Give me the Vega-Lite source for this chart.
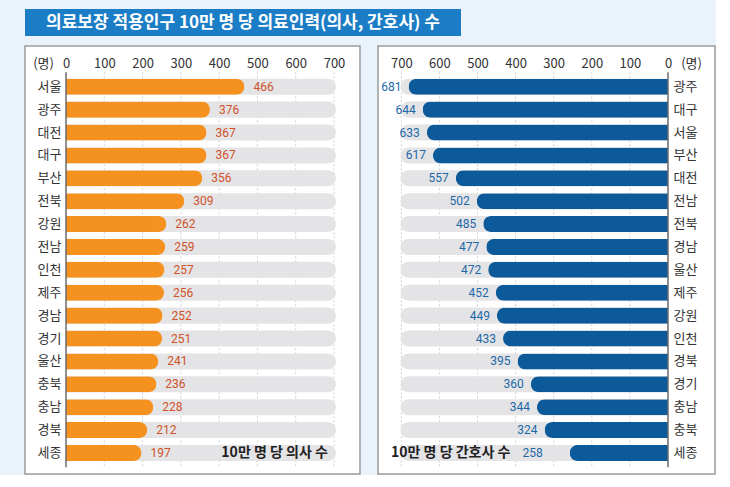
{
  "$schema": "https://vega.github.io/schema/vega-lite/v6.json",
  "background": "#eaf3fb",
  "padding": {"left": 24, "top": 9, "right": 0, "bottom": 0},
  "config": {
    "font": "Noto Sans CJK KR",
    "view": {"fill": "white", "stroke": "#9a9a9a", "strokeWidth": 1.5}
  },
  "datasets": {
    "doctors": [
      {"region": "서울", "value": 466},
      {"region": "광주", "value": 376},
      {"region": "대전", "value": 367},
      {"region": "대구", "value": 367},
      {"region": "부산", "value": 356},
      {"region": "전북", "value": 309},
      {"region": "강원", "value": 262},
      {"region": "전남", "value": 259},
      {"region": "인천", "value": 257},
      {"region": "제주", "value": 256},
      {"region": "경남", "value": 252},
      {"region": "경기", "value": 251},
      {"region": "울산", "value": 241},
      {"region": "충북", "value": 236},
      {"region": "충남", "value": 228},
      {"region": "경북", "value": 212},
      {"region": "세종", "value": 197}
    ],
    "nurses": [
      {"region": "광주", "value": 681},
      {"region": "대구", "value": 644},
      {"region": "서울", "value": 633},
      {"region": "부산", "value": 617},
      {"region": "대전", "value": 557},
      {"region": "전남", "value": 502},
      {"region": "전북", "value": 485},
      {"region": "경남", "value": 477},
      {"region": "울산", "value": 472},
      {"region": "제주", "value": 452},
      {"region": "강원", "value": 449},
      {"region": "인천", "value": 433},
      {"region": "경북", "value": 395},
      {"region": "경기", "value": 360},
      {"region": "충남", "value": 344},
      {"region": "충북", "value": 324},
      {"region": "세종", "value": 258}
    ],
    "ticks": [{"t": 100}, {"t": 200}, {"t": 300}, {"t": 400}, {"t": 500}, {"t": 600}, {"t": 700}]
  },
  "spacing": 9,
  "vconcat": [
    {
      "width": 436,
      "height": 27,
      "view": {"fill": "#1b7dc5", "stroke": null},
      "data": {"values": [{"title": "의료보장 적용인구 10만 명 당 의료인력(의사, 간호사) 수"}]},
      "mark": {"type": "text", "color": "white", "fontSize": 17, "fontWeight": "bold"},
      "encoding": {"text": {"field": "title", "type": "nominal"}}
    },
    {
      "spacing": 16,
      "hconcat": [
        {
          "width": 335,
          "height": 428,
          "data": {"name": "doctors"},
          "encoding": {
            "y": {
              "field": "region",
              "type": "nominal",
              "scale": {
                "domain": ["서울", "광주", "대전", "대구", "부산", "전북", "강원", "전남", "인천", "제주", "경남", "경기", "울산", "충북", "충남", "경북", "세종"],
                "paddingInner": 0.3,
                "paddingOuter": 1.045,
                "align": 0.715
              },
              "axis": {"orient": "left", "offset": -41, "title": null, "ticks": false, "domain": false, "labelPadding": 5, "labelFontSize": 13, "labelColor": "#333"}
            }
          },
          "layer": [
            {
              "data": {"name": "ticks"},
              "mark": {"type": "rule", "color": "#d0d0d0", "strokeDash": [2, 2], "strokeWidth": 1},
              "encoding": {
                "x": {
                  "field": "t",
                  "type": "quantitative",
                  "scale": {"domain": [-107.1, 767.9], "nice": false, "zero": false},
                  "axis": {"orient": "top", "values": [0, 100, 200, 300, 400, 500, 600, 700], "offset": -28, "grid": false, "domain": false, "ticks": false, "labelPadding": 4, "labelFontSize": 13, "labelColor": "#333", "title": "(명)", "titleX": 18, "titleY": -4, "titleBaseline": "bottom", "titleAlign": "center", "titleAnchor": null, "titleFontWeight": "normal", "titleFontSize": 13, "titleColor": "#333"}
                },
                "y": {"datum": "서울", "bandPosition": -0.4},
                "y2": {"datum": "세종", "bandPosition": 1.4}
              }
            },
            {
              "mark": {"type": "bar", "color": "#e4e4e6", "cornerRadiusTopRight": 8, "cornerRadiusBottomRight": 8},
              "encoding": {"x": {"datum": 705}, "x2": {"datum": 0}}
            },
            {
              "mark": {"type": "bar", "color": "#f5921f", "cornerRadiusTopRight": 8, "cornerRadiusBottomRight": 8},
              "encoding": {"x": {"field": "value", "type": "quantitative"}}
            },
            {
              "mark": {"type": "text", "align": "left", "dx": 9, "color": "#cf5228", "fontSize": 12, "font": "Liberation Sans Narrow, Roboto, sans-serif"},
              "encoding": {"x": {"field": "value", "type": "quantitative"}, "text": {"field": "value", "type": "quantitative"}}
            },
            {
              "data": {"values": [{"z": 0}]},
              "mark": {"type": "rule", "color": "#6b6b6b", "strokeWidth": 1.5},
              "encoding": {"x": {"datum": 0}, "y": {"datum": "서울", "bandPosition": -0.4}, "y2": {"datum": "세종", "bandPosition": 1.4}}
            },
            {
              "data": {"values": [{"note": "10만 명 당 의사 수"}]},
              "mark": {"type": "text", "align": "right", "fontWeight": "bold", "fontSize": 14, "color": "#222"},
              "encoding": {"x": {"datum": 684}, "y": {"datum": "세종"}, "text": {"field": "note", "type": "nominal"}}
            }
          ]
        },
        {
          "width": 337,
          "height": 428,
          "data": {"name": "nurses"},
          "encoding": {
            "y": {
              "field": "region",
              "type": "nominal",
              "scale": {
                "domain": ["광주", "대구", "서울", "부산", "대전", "전남", "전북", "경남", "울산", "제주", "강원", "인천", "경북", "경기", "충남", "충북", "세종"],
                "paddingInner": 0.3,
                "paddingOuter": 1.045,
                "align": 0.715
              },
              "axis": {"orient": "right", "offset": -47, "title": null, "ticks": false, "domain": false, "labelPadding": 5, "labelFontSize": 13, "labelColor": "#333"}
            }
          },
          "layer": [
            {
              "data": {"name": "ticks"},
              "mark": {"type": "rule", "color": "#d0d0d0", "strokeDash": [2, 2], "strokeWidth": 1},
              "encoding": {
                "x": {
                  "field": "t",
                  "type": "quantitative",
                  "scale": {"domain": [-123.4, 761.2], "nice": false, "zero": false, "reverse": true},
                  "axis": {"orient": "top", "values": [0, 100, 200, 300, 400, 500, 600, 700], "offset": -28, "grid": false, "domain": false, "ticks": false, "labelPadding": 4, "labelFontSize": 13, "labelColor": "#333", "title": "(명)", "titleX": 313, "titleY": -4, "titleBaseline": "bottom", "titleAlign": "center", "titleAnchor": null, "titleFontWeight": "normal", "titleFontSize": 13, "titleColor": "#333"}
                },
                "y": {"datum": "광주", "bandPosition": -0.4},
                "y2": {"datum": "세종", "bandPosition": 1.4}
              }
            },
            {
              "mark": {"type": "bar", "color": "#e4e4e6", "cornerRadiusTopLeft": 8, "cornerRadiusBottomLeft": 8},
              "encoding": {"x": {"datum": 702}, "x2": {"datum": 0}}
            },
            {
              "mark": {"type": "bar", "color": "#0c5a9a", "cornerRadiusTopLeft": 8, "cornerRadiusBottomLeft": 8},
              "encoding": {"x": {"field": "value", "type": "quantitative"}}
            },
            {
              "transform": [{"filter": "datum.region !== '세종'"}],
              "mark": {"type": "text", "align": "right", "dx": -7, "color": "#1d68a6", "fontSize": 12, "font": "Liberation Sans Narrow, Roboto, sans-serif"},
              "encoding": {"x": {"field": "value", "type": "quantitative"}, "text": {"field": "value", "type": "quantitative"}}
            },
            {
              "transform": [{"filter": "datum.region === '세종'"}],
              "mark": {"type": "text", "align": "right", "dx": -27, "color": "#1d68a6", "fontSize": 12, "font": "Liberation Sans Narrow, Roboto, sans-serif"},
              "encoding": {"x": {"field": "value", "type": "quantitative"}, "text": {"field": "value", "type": "quantitative"}}
            },
            {
              "data": {"values": [{"z": 0}]},
              "mark": {"type": "rule", "color": "#6b6b6b", "strokeWidth": 1.5},
              "encoding": {"x": {"datum": 0}, "y": {"datum": "광주", "bandPosition": -0.4}, "y2": {"datum": "세종", "bandPosition": 1.4}}
            },
            {
              "data": {"values": [{"note": "10만 명 당 간호사 수"}]},
              "mark": {"type": "text", "align": "left", "fontWeight": "bold", "fontSize": 14, "color": "#222"},
              "encoding": {"x": {"datum": 727}, "y": {"datum": "세종"}, "text": {"field": "note", "type": "nominal"}}
            }
          ]
        }
      ]
    }
  ]
}
